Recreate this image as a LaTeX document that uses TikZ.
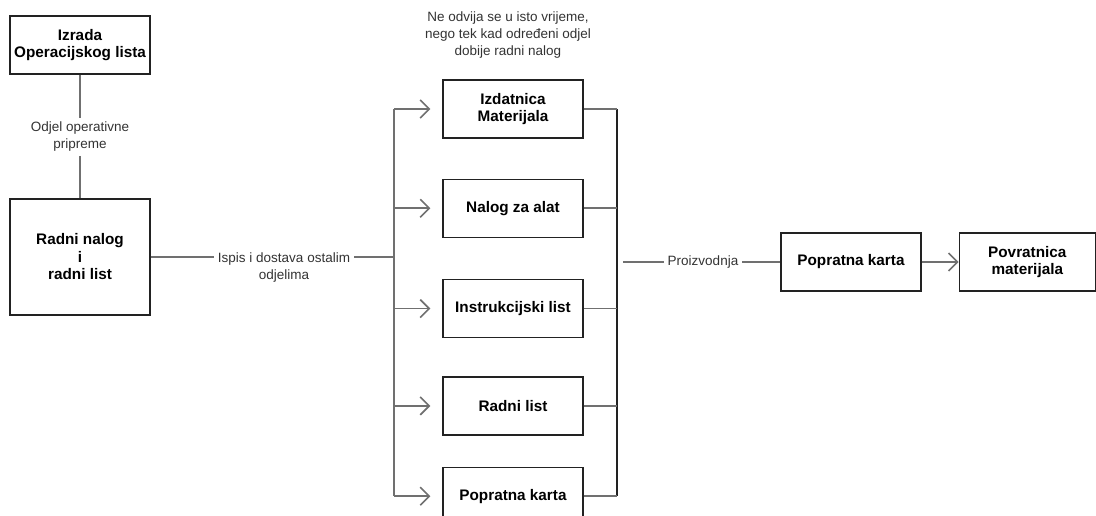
\documentclass[tikz,border=0pt]{standalone}
\usepackage{fontspec}
\setmainfont{Liberation Sans}
\usetikzlibrary{positioning}
\usetikzlibrary{arrows.meta}
\definecolor{linkgray}{RGB}{112,112,112}
\definecolor{boxline}{RGB}{34,34,34}
\definecolor{labeltext}{RGB}{51,51,51}
\tikzset{
  box/.style={draw=boxline, line width=1.3pt, minimum width=140pt, minimum height=58pt, inner sep=2pt,
    font=\fontsize{15.3}{17.5}\selectfont\bfseries},
  lbl/.style={text=labeltext, inner sep=4pt, font=\fontsize{13.5}{17}\selectfont},
  link/.style={draw=linkgray, line width=1.6pt},
  tip/.style={-{Straight Barb[length=9pt, width=18pt]}}
}

\begin{document}
\begin{tikzpicture}[x=1pt, y=-1pt, align=center, node distance=40pt]
\useasboundingbox (0,0) rectangle (1096,516);

\draw
    (80,45) node [box, name=izrada] {Izrada\\Operacijskog lista}
    (80,257) node [box, minimum height=116pt, name=radni nalog] {Radni nalog\\i\\radni list}
    (80,137) node [lbl, name=odjel] {Odjel operativne\\pripreme}
;

\draw
    (513,109) node [box, name=izdatnica] {Izdatnica\\Materijala}
    node [box, below=40pt of izdatnica, name=nalog] {Nalog za alat}
    node [box, below=41pt of nalog, name=instrukcijski] {Instrukcijski list}
    node [box, below=38pt of instrukcijski, name=radni list] {Radni list}
    node [box, below=31pt of radni list, name=popratna] {Popratna karta}
    (508,35) node [lbl, name=napomena] {Ne odvija se u isto vrijeme,\\nego tek kad odre\dj eni odjel\\dobije radni nalog}
;

\draw
    (851,262) node [box, name=popratna karta] {Popratna karta}
    node [box, minimum width=136pt, right=37pt of popratna karta, name=povratnica] {Povratnica\\materijala}
    (703,262) node [lbl, name=proizvodnja] {Proizvodnja}
;

\node [lbl, anchor=north, name=ispis] at (284,249) {Ispis i dostava ostalim\\odjelima};

\coordinate (bus left) at (394,0);
\coordinate (bus right) at (617,0);
\coordinate (bus out) at (623,262);

\draw[link] (izrada) -- (odjel);
\draw[link] (odjel) -- (radni nalog);
\draw[link] (radni nalog.east) -- (radni nalog.east -| ispis.west);
\draw[link] (radni nalog.east -| ispis.east) -- (radni nalog.east -| bus left);

\draw[link] (bus left |- izdatnica) -- (bus left |- popratna);
\draw[link, tip, shorten >=12pt] (bus left |- izdatnica) -- (izdatnica.west);
\draw[link, tip, shorten >=12pt] (bus left |- nalog) -- (nalog.west);
\draw[link, tip, shorten >=12pt] (bus left |- instrukcijski) -- (instrukcijski.west);
\draw[link, tip, shorten >=12pt] (bus left |- radni list) -- (radni list.west);
\draw[link, tip, shorten >=12pt] (bus left |- popratna) -- (popratna.west);

\draw[link, draw=boxline] (bus right |- izdatnica) -- (bus right |- popratna);
\draw[link] (izdatnica.east) -- (bus right |- izdatnica);
\draw[link] (nalog.east) -- (bus right |- nalog);
\draw[link] (instrukcijski.east) -- (bus right |- instrukcijski);
\draw[link] (radni list.east) -- (bus right |- radni list);
\draw[link] (popratna.east) -- (bus right |- popratna);

%% Output
\draw[link] (bus out) -- (proizvodnja);
\draw[link] (proizvodnja) -- (popratna karta);
\draw[link, tip] (popratna karta) -- (povratnica);

\end{tikzpicture}
\end{document}
